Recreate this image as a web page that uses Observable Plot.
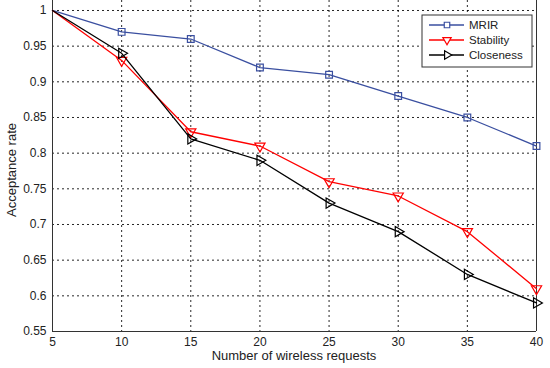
<!DOCTYPE html>
<html><head><meta charset="utf-8">
<script src="https://cdn.jsdelivr.net/npm/d3@7"></script>
<script src="https://cdn.jsdelivr.net/npm/@observablehq/plot@0.6"></script>
<style>
body{margin:0;background:#fff;font-family:"Liberation Sans",Arial,sans-serif;}
#wrap{position:relative;width:550px;height:368px;}
</style></head>
<body><div id="wrap"></div>
<script>
const requests = [5, 10, 15, 20, 25, 30, 35, 40];
const mrir      = [1, 0.97, 0.96, 0.92, 0.91, 0.88, 0.85, 0.81];
const stability = [1, 0.93, 0.83, 0.81, 0.76, 0.74, 0.69, 0.61];
const closeness = [1, 0.94, 0.82, 0.79, 0.73, 0.69, 0.63, 0.59];
const xTicks = [5, 10, 15, 20, 25, 30, 35, 40];
const yTicks = [0.55, 0.6, 0.65, 0.7, 0.75, 0.8, 0.85, 0.9, 0.95, 1];
const seriesNames = ["MRIR", "Stability", "Closeness"];
const seriesColors = ["#3a4fa0", "#ff0000", "#000000"];
const seriesSymbols = ["square", "triangle", "triangle"];
const seriesRotate = [0, 180, 90];

const allSeries = [mrir, stability, closeness];
const rows = [];
allSeries.forEach((vals, s) => vals.forEach((v, i) => rows.push({x: requests[i], y: v, s})));

const marks = [
  Plot.gridX(xTicks, {stroke: "#000", strokeOpacity: 0.85, strokeDasharray: "2,3"}),
  Plot.gridY(yTicks, {stroke: "#000", strokeOpacity: 0.85, strokeDasharray: "2,3"}),
  Plot.axisX(xTicks, {tickSize: 0, tickPadding: 6, fontSize: 12, fill: "#222", label: null}),
  Plot.axisY(yTicks, {tickSize: 0, tickPadding: 6, fontSize: 12, fill: "#222", label: null, tickFormat: d => String(d)}),
  Plot.ruleX([xTicks[0], xTicks[xTicks.length - 1]], {stroke: "#333"}),
  Plot.ruleY([yTicks[0]], {stroke: "#333"})
];
allSeries.forEach((vals, s) => {
  const d = rows.filter(r => r.s === s);
  marks.push(Plot.line(d, {x: "x", y: "y", stroke: seriesColors[s], strokeWidth: 1.3}));
  marks.push(Plot.dot(d.filter(r => r.x !== requests[0]), {x: "x", y: "y", stroke: seriesColors[s], fill: "none", symbol: seriesSymbols[s], rotate: seriesRotate[s], r: 3.8, strokeWidth: 1.2}));
});

const chart = Plot.plot({
  width: 550, height: 368,
  marginLeft: 52, marginRight: 14, marginTop: 0, marginBottom: 37,
  x: {domain: [5, 40]},
  y: {domain: [0.55, 1.014]},
  style: {fontFamily: "Liberation Sans, Arial, sans-serif", background: "#fff"},
  marks
});
document.getElementById("wrap").appendChild(chart);

const svg = d3.select(chart);
svg.append("text").attr("x", 294).attr("y", 360).attr("text-anchor", "middle")
  .attr("font-size", 13).attr("fill", "#222").text("Number of wireless requests");
svg.append("text").attr("transform", "translate(16,170) rotate(-90)").attr("text-anchor", "middle")
  .attr("font-size", 13).attr("fill", "#222").text("Acceptance rate");

// legend
const lg = svg.append("g").attr("transform", "translate(422,15)");
lg.append("rect").attr("width", 110).attr("height", 52).attr("fill", "#fff").attr("stroke", "#333");
seriesNames.forEach((n, i) => {
  const y = 10 + i * 15;
  lg.append("line").attr("x1", 7).attr("x2", 42).attr("y1", y).attr("y2", y).attr("stroke", seriesColors[i]).attr("stroke-width", 1.3);
  lg.append("path").attr("d", d3.symbol(i === 0 ? d3.symbolSquare : d3.symbolTriangle, 30)())
    .attr("transform", `translate(25,${y}) rotate(${seriesRotate[i]})`)
    .attr("fill", "#fff").attr("stroke", seriesColors[i]).attr("stroke-width", 1.2);
  lg.append("text").attr("x", 47).attr("y", y + 4).attr("text-anchor", "start")
    .attr("font-size", 11.5).attr("fill", "#222").text(n);
});
</script></body></html>
